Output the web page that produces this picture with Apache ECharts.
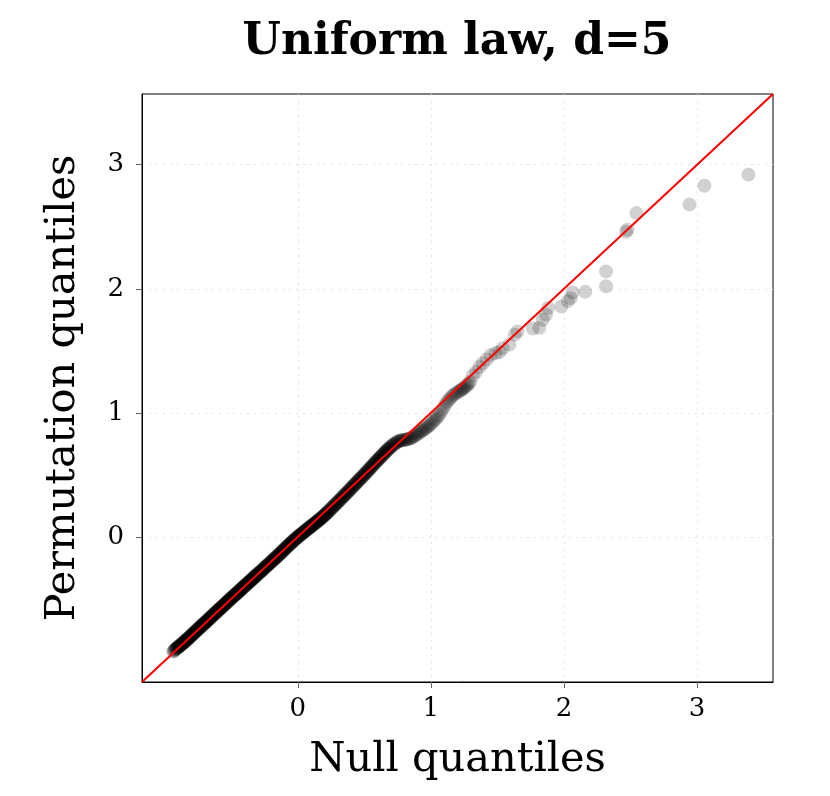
<!DOCTYPE html>
<html>
<head>
<meta charset="utf-8">
<script src="https://cdn.jsdelivr.net/npm/echarts@6/dist/echarts.min.js"></script>
<style>
html, body { margin: 0; padding: 0; background: #fff; }
#qq { width: 830px; height: 796px; }
</style>
</head>
<body>
<div id="qq"></div>
<script>
// null quantiles (x) and permutation quantiles (y)
var nullQ = [
  -0.935,-0.931,-0.926,-0.922,-0.918,-0.914,-0.910,-0.906,-0.902,-0.899,
  -0.896,-0.893,-0.890,-0.887,-0.884,-0.881,-0.878,-0.875,-0.872,-0.869,
  -0.866,-0.863,-0.860,-0.857,-0.854,-0.851,-0.848,-0.845,-0.842,-0.839,
  -0.836,-0.833,-0.830,-0.827,-0.824,-0.821,-0.818,-0.815,-0.812,-0.809,
  -0.806,-0.803,-0.800,-0.797,-0.794,-0.791,-0.788,-0.785,-0.782,-0.779,
  -0.776,-0.773,-0.770,-0.767,-0.764,-0.761,-0.758,-0.755,-0.752,-0.749,
  -0.746,-0.743,-0.740,-0.737,-0.734,-0.731,-0.728,-0.725,-0.722,-0.719,
  -0.716,-0.713,-0.710,-0.707,-0.704,-0.701,-0.698,-0.695,-0.692,-0.689,
  -0.686,-0.683,-0.680,-0.677,-0.674,-0.671,-0.668,-0.665,-0.662,-0.659,
  -0.656,-0.653,-0.650,-0.647,-0.644,-0.641,-0.638,-0.635,-0.632,-0.629,
  -0.626,-0.623,-0.620,-0.617,-0.614,-0.611,-0.608,-0.605,-0.602,-0.599,
  -0.596,-0.593,-0.590,-0.587,-0.584,-0.581,-0.578,-0.575,-0.572,-0.569,
  -0.566,-0.563,-0.560,-0.557,-0.554,-0.551,-0.548,-0.545,-0.542,-0.539,
  -0.536,-0.533,-0.530,-0.527,-0.524,-0.521,-0.518,-0.515,-0.512,-0.509,
  -0.506,-0.503,-0.500,-0.497,-0.494,-0.491,-0.488,-0.485,-0.482,-0.479,
  -0.476,-0.473,-0.470,-0.467,-0.464,-0.461,-0.458,-0.455,-0.452,-0.449,
  -0.446,-0.443,-0.440,-0.437,-0.434,-0.431,-0.428,-0.425,-0.422,-0.419,
  -0.416,-0.413,-0.410,-0.407,-0.404,-0.401,-0.398,-0.395,-0.392,-0.389,
  -0.386,-0.383,-0.380,-0.377,-0.374,-0.371,-0.368,-0.365,-0.362,-0.359,
  -0.356,-0.353,-0.350,-0.347,-0.344,-0.341,-0.338,-0.335,-0.332,-0.329,
  -0.326,-0.323,-0.320,-0.317,-0.314,-0.311,-0.308,-0.305,-0.302,-0.299,
  -0.296,-0.292,-0.289,-0.285,-0.282,-0.278,-0.275,-0.271,-0.268,-0.264,
  -0.261,-0.257,-0.254,-0.250,-0.247,-0.243,-0.240,-0.236,-0.233,-0.229,
  -0.226,-0.222,-0.219,-0.215,-0.212,-0.208,-0.205,-0.201,-0.198,-0.194,
  -0.191,-0.187,-0.184,-0.180,-0.177,-0.173,-0.170,-0.166,-0.163,-0.159,
  -0.156,-0.152,-0.149,-0.145,-0.142,-0.138,-0.135,-0.131,-0.128,-0.124,
  -0.121,-0.117,-0.114,-0.110,-0.107,-0.103,-0.100,-0.096,-0.093,-0.089,
  -0.086,-0.082,-0.079,-0.075,-0.072,-0.068,-0.065,-0.061,-0.058,-0.054,
  -0.051,-0.047,-0.044,-0.040,-0.037,-0.033,-0.030,-0.026,-0.023,-0.019,
  -0.016,-0.012,-0.009,-0.005,-0.002,0.002,0.005,0.009,0.012,0.016,
  0.019,0.023,0.026,0.030,0.033,0.037,0.040,0.044,0.047,0.051,
  0.054,0.058,0.061,0.065,0.068,0.072,0.075,0.079,0.082,0.086,
  0.089,0.093,0.096,0.100,0.103,0.107,0.110,0.114,0.117,0.121,
  0.124,0.128,0.131,0.135,0.138,0.142,0.145,0.149,0.152,0.156,
  0.159,0.163,0.166,0.170,0.173,0.177,0.180,0.184,0.187,0.191,
  0.194,0.198,0.201,0.205,0.208,0.212,0.215,0.219,0.222,0.226,
  0.230,0.234,0.239,0.243,0.248,0.252,0.257,0.261,0.266,0.270,
  0.275,0.279,0.284,0.288,0.293,0.297,0.302,0.306,0.311,0.315,
  0.320,0.324,0.329,0.333,0.338,0.342,0.347,0.351,0.356,0.360,
  0.365,0.369,0.374,0.378,0.383,0.387,0.392,0.396,0.401,0.405,
  0.410,0.414,0.419,0.423,0.428,0.432,0.437,0.441,0.446,0.450,
  0.455,0.459,0.464,0.468,0.473,0.477,0.482,0.486,0.491,0.495,
  0.500,0.504,0.509,0.513,0.518,0.522,0.527,0.531,0.536,0.540,
  0.545,0.549,0.554,0.558,0.563,0.567,0.572,0.576,0.581,0.585,
  0.590,0.594,0.599,0.603,0.608,0.612,0.617,0.621,0.626,0.630,
  0.635,0.639,0.644,0.648,0.653,0.657,0.662,0.666,0.671,0.675,
  0.680,0.685,0.690,0.695,0.700,0.706,0.712,0.718,0.724,0.731,
  0.738,0.745,
  0.752,0.759,0.766,0.774,0.782,0.790,0.798,0.806,0.815,0.824,
  0.833,0.842,0.851,0.860,0.870,0.880,0.890,0.900,0.910,0.920,
  0.930,0.940,0.951,0.961,0.972,0.983,0.994,1.005,1.017,1.028,
  1.040,1.052,1.065,1.077,1.090,1.102,1.115,1.127,1.140,1.152,
  1.165,1.177,1.190,1.203,1.215,1.225,1.235,1.245,1.255,1.265,
  1.275,1.285,1.295,
  1.315,1.340,1.365,1.390,1.420,1.450,1.485,1.515,1.540,1.590,
  1.630,1.650,1.765,1.815,1.840,1.865,1.880,1.980,2.030,2.050,
  2.065,2.160,2.316,2.316,2.465,2.478,2.545,2.943,3.055,3.385
];
var permQ = [
  -0.925,-0.921,-0.915,-0.909,-0.905,-0.901,-0.898,-0.895,-0.892,-0.890,
  -0.887,-0.885,-0.882,-0.880,-0.877,-0.874,-0.871,-0.868,-0.865,-0.863,
  -0.860,-0.858,-0.855,-0.852,-0.849,-0.846,-0.843,-0.840,-0.837,-0.834,
  -0.831,-0.828,-0.826,-0.823,-0.820,-0.817,-0.814,-0.811,-0.808,-0.805,
  -0.802,-0.799,-0.796,-0.793,-0.790,-0.787,-0.784,-0.781,-0.777,-0.774,
  -0.771,-0.768,-0.765,-0.762,-0.759,-0.756,-0.753,-0.750,-0.747,-0.744,
  -0.741,-0.738,-0.735,-0.732,-0.729,-0.726,-0.723,-0.720,-0.717,-0.714,
  -0.711,-0.708,-0.705,-0.702,-0.699,-0.697,-0.694,-0.691,-0.688,-0.685,
  -0.682,-0.679,-0.676,-0.672,-0.669,-0.666,-0.663,-0.660,-0.657,-0.654,
  -0.651,-0.648,-0.645,-0.642,-0.639,-0.636,-0.633,-0.630,-0.627,-0.624,
  -0.621,-0.618,-0.615,-0.612,-0.609,-0.606,-0.603,-0.600,-0.597,-0.594,
  -0.591,-0.588,-0.585,-0.582,-0.579,-0.576,-0.573,-0.570,-0.567,-0.564,
  -0.561,-0.558,-0.555,-0.552,-0.549,-0.546,-0.543,-0.540,-0.537,-0.534,
  -0.531,-0.528,-0.525,-0.522,-0.519,-0.516,-0.513,-0.510,-0.507,-0.504,
  -0.501,-0.498,-0.495,-0.492,-0.489,-0.486,-0.483,-0.480,-0.477,-0.474,
  -0.472,-0.469,-0.467,-0.464,-0.461,-0.458,-0.455,-0.452,-0.449,-0.446,
  -0.443,-0.440,-0.437,-0.434,-0.431,-0.428,-0.425,-0.422,-0.419,-0.416,
  -0.413,-0.410,-0.407,-0.404,-0.401,-0.398,-0.395,-0.392,-0.389,-0.386,
  -0.384,-0.381,-0.378,-0.375,-0.372,-0.369,-0.366,-0.364,-0.361,-0.358,
  -0.355,-0.352,-0.349,-0.346,-0.343,-0.340,-0.337,-0.334,-0.331,-0.328,
  -0.325,-0.322,-0.319,-0.316,-0.313,-0.310,-0.307,-0.304,-0.301,-0.298,
  -0.296,-0.292,-0.289,-0.285,-0.282,-0.279,-0.276,-0.272,-0.269,-0.265,
  -0.262,-0.258,-0.255,-0.251,-0.248,-0.244,-0.241,-0.237,-0.234,-0.230,
  -0.228,-0.224,-0.221,-0.217,-0.214,-0.210,-0.207,-0.203,-0.200,-0.196,
  -0.193,-0.189,-0.186,-0.182,-0.179,-0.175,-0.172,-0.168,-0.165,-0.161,
  -0.158,-0.154,-0.151,-0.147,-0.144,-0.140,-0.137,-0.133,-0.130,-0.126,
  -0.122,-0.118,-0.115,-0.111,-0.108,-0.104,-0.100,-0.096,-0.093,-0.089,
  -0.085,-0.081,-0.078,-0.074,-0.071,-0.067,-0.064,-0.060,-0.057,-0.053,
  -0.050,-0.046,-0.043,-0.039,-0.036,-0.032,-0.029,-0.025,-0.022,-0.019,
  -0.016,-0.012,-0.009,-0.006,-0.003,0.001,0.003,0.007,0.010,0.013,
  0.016,0.019,0.022,0.025,0.028,0.031,0.034,0.037,0.040,0.043,
  0.046,0.049,0.052,0.055,0.058,0.061,0.064,0.067,0.070,0.073,
  0.076,0.079,0.082,0.085,0.088,0.091,0.094,0.097,0.100,0.103,
  0.106,0.109,0.112,0.115,0.118,0.121,0.124,0.127,0.130,0.133,
  0.136,0.139,0.142,0.145,0.148,0.151,0.155,0.158,0.161,0.165,
  0.168,0.172,0.175,0.179,0.182,0.186,0.189,0.193,0.197,0.201,
  0.205,0.209,0.215,0.219,0.224,0.229,0.234,0.238,0.243,0.248,
  0.253,0.257,0.263,0.267,0.272,0.277,0.282,0.287,0.292,0.296,
  0.302,0.306,0.312,0.316,0.322,0.326,0.331,0.336,0.341,0.346,
  0.351,0.356,0.361,0.366,0.371,0.376,0.381,0.386,0.391,0.396,
  0.402,0.406,0.412,0.416,0.422,0.426,0.432,0.436,0.442,0.446,
  0.452,0.456,0.462,0.466,0.472,0.476,0.482,0.486,0.492,0.497,
  0.502,0.507,0.513,0.517,0.523,0.528,0.534,0.538,0.544,0.549,
  0.555,0.559,0.565,0.570,0.576,0.580,0.586,0.591,0.597,0.601,
  0.607,0.612,0.617,0.622,0.628,0.632,0.638,0.642,0.648,0.652,
  0.658,0.662,0.668,0.672,0.678,0.682,0.688,0.692,0.698,0.702,
  0.707,0.712,0.717,0.722,0.727,0.732,0.738,0.743,0.748,0.753,
  0.758,0.763,
  0.769,0.772,0.774,0.776,0.778,0.780,0.781,0.782,0.784,0.786,
  0.789,0.793,0.797,0.802,0.808,0.815,0.822,0.830,0.838,0.845,
  0.853,0.860,0.868,0.876,0.885,0.894,0.904,0.916,0.930,0.942,
  0.955,0.970,0.985,1.008,1.030,1.055,1.080,1.095,1.110,1.125,
  1.140,1.150,1.160,1.168,1.175,1.182,1.190,1.198,1.205,1.215,
  1.225,1.238,1.250,
  1.300,1.330,1.370,1.400,1.430,1.465,1.480,1.490,1.520,1.550,
  1.630,1.655,1.680,1.685,1.750,1.790,1.845,1.857,1.900,1.925,
  1.970,1.975,2.020,2.140,2.460,2.476,2.610,2.680,2.830,2.920
];
// reference line y = x across the axis range
var axisMin = -1.17;
var axisMax = 3.57;
var tickValues = [0, 1, 2, 3];

var points = [];
for (var i = 0; i < Math.min(nullQ.length, permQ.length); i++) {
  points.push([nullQ[i], permQ[i]]);
}
var diag = [[axisMin, axisMin], [axisMax, axisMax]];

var chart = echarts.init(document.getElementById('qq'));
var serif = 'DejaVu Serif';

function axisCfg(name, gap, labelMargin) {
  return {
    type: 'value',
    min: axisMin,
    max: axisMax,
    splitNumber: 5,
    name: name,
    nameLocation: 'middle',
    nameGap: gap,
    nameTextStyle: { fontFamily: serif, fontSize: 41.5, color: '#000' },
    axisLine: { show: true, onZero: false, lineStyle: { color: '#000', width: 1 } },
    axisTick: { show: true, length: 6, customValues: tickValues, lineStyle: { color: '#666' } },
    axisLabel: {
      customValues: tickValues,
      fontFamily: serif, fontSize: 26, color: '#000', margin: labelMargin,
      formatter: function (v) { return tickValues.indexOf(v) >= 0 ? String(v) : ''; }
    },
    splitLine: { show: true, lineStyle: { color: '#e2e2e2', type: [2, 5], width: 1 } }
  };
}

var option = {
  backgroundColor: '#fff',
  animation: false,
  title: {
    text: 'Uniform law, d=5',
    left: 452,
    textAlign: 'center',
    top: 16,
    textStyle: { fontFamily: serif, fontSize: 44, fontWeight: 'bold', color: '#000' }
  },
  grid: {
    left: 142, right: 57, top: 94, bottom: 114,
    outerBoundsMode: 'none',
    containLabel: false,
    show: true, borderColor: '#000', borderWidth: 1, backgroundColor: 'transparent'
  },
  xAxis: axisCfg('Null quantiles', 57, 14),
  yAxis: axisCfg('Permutation quantiles', 58, 18),
  series: [
    {
      name: 'qq',
      type: 'scatter',
      symbolSize: 14,
      large: false,
      progressive: 0,
      itemStyle: { color: 'rgba(0,0,0,0.18)', opacity: 1 },
      data: points
    },
    {
      name: 'y=x',
      type: 'line',
      symbol: 'none',
      lineStyle: { color: '#ff0000', width: 2 },
      data: diag
    }
  ]
};
chart.setOption(option);
</script>
</body>
</html>
